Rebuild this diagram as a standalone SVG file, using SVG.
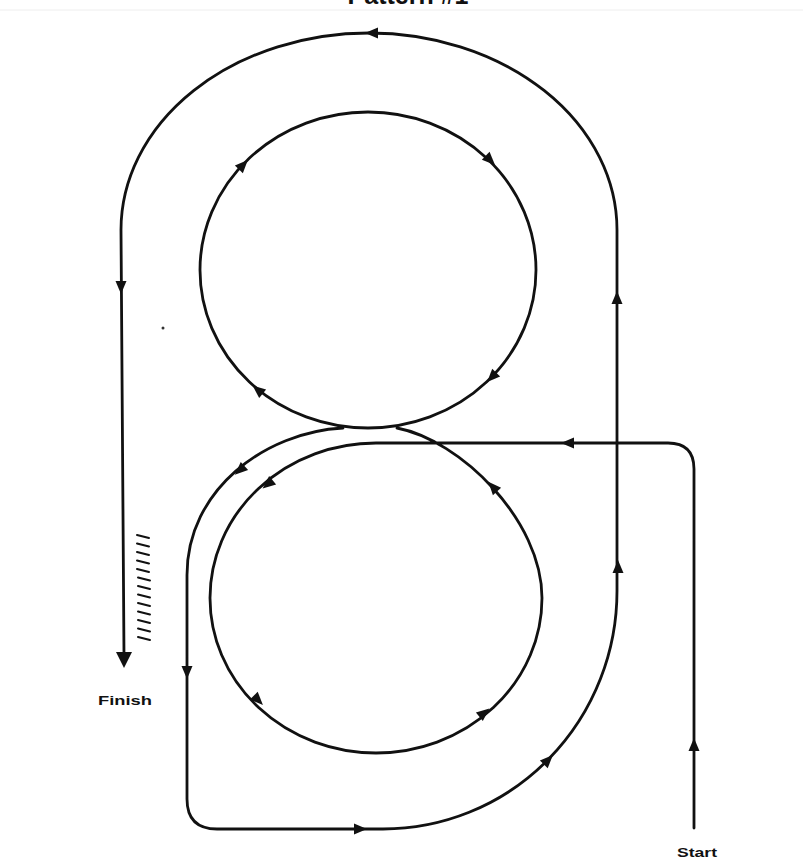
<svg xmlns="http://www.w3.org/2000/svg" width="803" height="859" viewBox="0 0 803 859">
<style>
.ln{fill:none;stroke:#111;stroke-width:2.8;stroke-linecap:round;stroke-linejoin:round}
.ah{fill:#111}
.lbl{font-family:"Liberation Sans",Arial,sans-serif;font-weight:bold;fill:#111}
.hatch{stroke:#111;stroke-width:2;stroke-linecap:round}
</style>
<defs>
<path id="ah" class="ah" d="M7,0 L-6,-5.5 L-6,5.5 Z"/>
</defs>
<rect width="803" height="859" fill="#fff"/>
<line x1="0" y1="10" x2="803" y2="10" stroke="#eeeeee" stroke-width="1"/>
<text class="lbl" x="408" y="4" font-size="25" text-anchor="middle">Pattern #1</text>

<g id="connectors">
  <g id="upper-circle">
    <ellipse class="ln" cx="368" cy="270" rx="168" ry="158"/>
    <use href="#ah" transform="translate(243,165) rotate(-46.5)"/>
    <use href="#ah" transform="translate(490,160) rotate(44.5)"/>
    <use href="#ah" transform="translate(492,377) rotate(134)"/>
    <use href="#ah" transform="translate(258,390) rotate(219)"/>
  </g>
  <g id="start-path">
    <path class="ln" d="M694,828 L694,469 Q694,443 668,443 L376,443 A166 155 0 0 0 210,598 A166 155 0 0 0 376,753 A166 155 0 0 0 542,598 C542,520 460,440 397,428"/>
    <use href="#ah" transform="translate(694,745) rotate(-90)"/>
    <use href="#ah" transform="translate(568,443) rotate(180)"/>
    <use href="#ah" transform="translate(268,484) rotate(140.6)"/>
    <use href="#ah" transform="translate(258,700) rotate(45.3)"/>
    <use href="#ah" transform="translate(484,713) rotate(-39)"/>
    <use href="#ah" transform="translate(493,487) rotate(-132)"/>
  </g>
  <g id="outer-path">
    <path class="ln" d="M343,428 C265,432 187,490 187,575 L187,799 Q187,829 217,829 L383,829 A234 238 0 0 0 617,591 L617,230 A248 197 0 0 0 369,33 A248 197 0 0 0 121,230 L124,655"/>
    <use href="#ah" transform="translate(240,470) rotate(138)"/>
    <use href="#ah" transform="translate(187,672) rotate(90)"/>
    <use href="#ah" transform="translate(360,829) rotate(0)"/>
    <use href="#ah" transform="translate(548,760) rotate(-45.5)"/>
    <use href="#ah" transform="translate(618,567) rotate(-90)"/>
    <use href="#ah" transform="translate(617,298) rotate(-90)"/>
    <use href="#ah" transform="translate(372,33) rotate(180)"/>
    <use href="#ah" transform="translate(121,287) rotate(90)"/>
    <path class="ah" d="M116,652 L132,652 L124,668 Z"/>
  </g>
</g>

<g id="finish-hatch">
  <line class="hatch" x1="137" y1="535" x2="149" y2="538"/>
  <line class="hatch" x1="137" y1="543.5" x2="149" y2="546.5"/>
  <line class="hatch" x1="137" y1="552" x2="149" y2="555"/>
  <line class="hatch" x1="137" y1="560.5" x2="149" y2="563.5"/>
  <line class="hatch" x1="137" y1="569" x2="149" y2="572"/>
  <line class="hatch" x1="138" y1="577.5" x2="150" y2="580.5"/>
  <line class="hatch" x1="138" y1="586" x2="150" y2="589"/>
  <line class="hatch" x1="138" y1="594.5" x2="150" y2="597.5"/>
  <line class="hatch" x1="138" y1="603" x2="150" y2="606"/>
  <line class="hatch" x1="138" y1="611.5" x2="150" y2="614.5"/>
  <line class="hatch" x1="138" y1="620" x2="150" y2="623"/>
  <line class="hatch" x1="138" y1="628.5" x2="150" y2="631.5"/>
  <line class="hatch" x1="138" y1="637" x2="150" y2="640"/>
</g>

<circle cx="163" cy="328" r="1.5" fill="#333"/>

<g id="finish">
  <text class="lbl" x="98" y="705" font-size="13" textLength="54" lengthAdjust="spacingAndGlyphs">Finish</text>
</g>
<g id="start">
  <text class="lbl" x="677" y="857" font-size="13" textLength="40" lengthAdjust="spacingAndGlyphs">Start</text>
</g>
</svg>
